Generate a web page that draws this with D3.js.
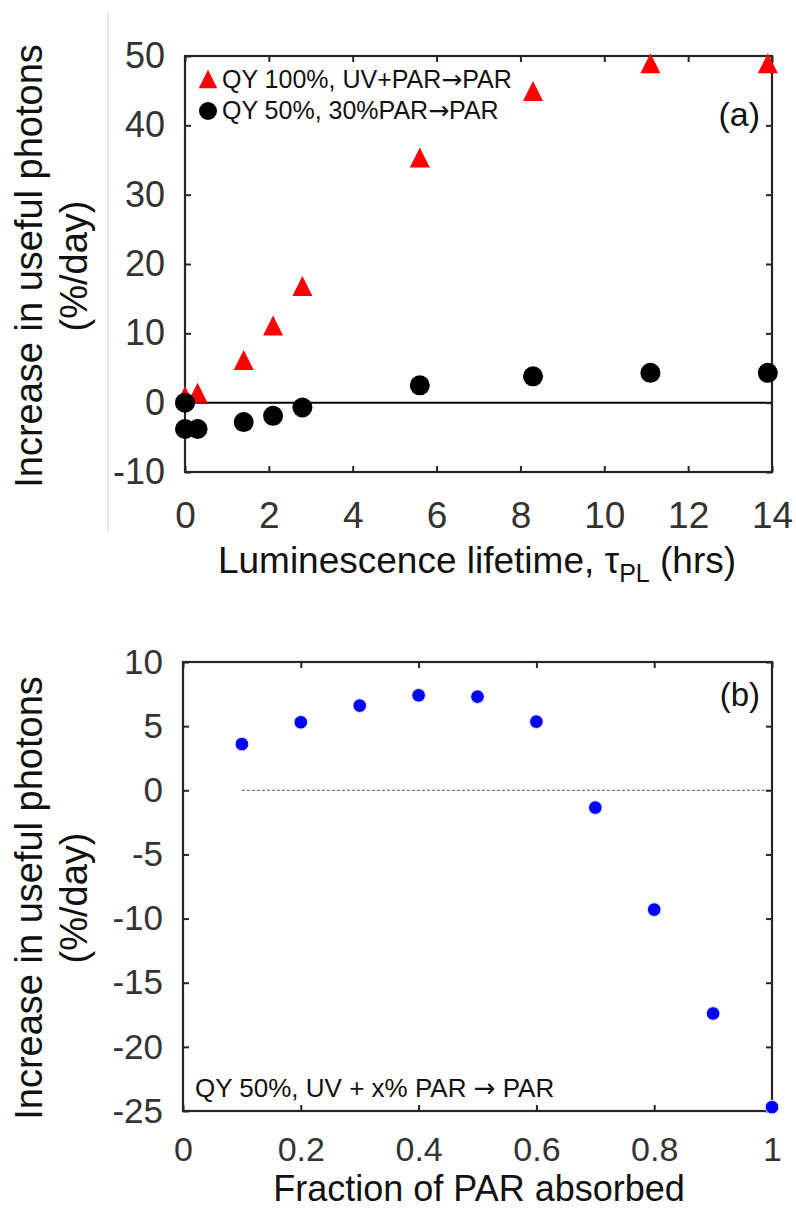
<!DOCTYPE html>
<html>
<head>
<meta charset="utf-8">
<script src="https://cdn.jsdelivr.net/npm/d3@7"></script>
<style>
  body { margin: 0; background: #fff; }
  text { font-family: "Liberation Sans", Arial, sans-serif; }
</style>
</head>
<body>
<script>
// data
const lifetimeRed = [0, 0.3, 1.4, 2.1, 2.8, 5.6, 8.3, 11.1, 13.9]
const qy100 = [0.8, 1.3, 6, 11, 16.7, 35.2, 44.8, 48.8, 48.8]
const lifetimeBlack = [0, 0, 0.3, 1.4, 2.1, 2.8, 5.6, 8.3, 11.1, 13.9]
const qy50 = [0, -3.8, -3.8, -2.8, -1.9, -0.7, 2.5, 3.8, 4.3, 4.3]

const fraction = [0.1, 0.2, 0.3, 0.4, 0.5, 0.6, 0.7, 0.8, 0.9, 1.0]
const gain = [3.6, 5.3, 6.6, 7.4, 7.3, 5.35, -1.35, -9.3, -17.4, -24.7]

const topXTicks = [0, 2, 4, 6, 8, 10, 12, 14]
const topYTicks = [-10, 0, 10, 20, 30, 40, 50]
const botXTicks = [0, 0.2, 0.4, 0.6, 0.8, 1]
const botYTicks = [-25, -20, -15, -10, -5, 0, 5, 10]

const w = 796
const h = 1209
const frameColor = '#262626'
const labelColor = '#333'
const plain = d => String(d)   // keeps the plain hyphen for negatives

const svg = d3.select('body').append('svg')
  .attr('width', w)
  .attr('height', h)

// triangle marker a bit taller than equilateral, as in the figure
const tallTriangle = {
  draw(ctx, size) {
    const s = Math.sqrt(size)
    ctx.moveTo(0, -s * 0.55)
    ctx.lineTo(s * 0.5, s * 0.45)
    ctx.lineTo(-s * 0.5, s * 0.45)
    ctx.closePath()
  }
}

function frame(g, x, y, xTicks, yTicks, opts) {
  const [x0, x1] = x.range()
  const [y0, y1] = y.range()   // y0 bottom, y1 top
  const inner = 6

  // tick labels + inward ticks
  g.append('g').attr('transform', `translate(0,${y0})`)
    .call(d3.axisBottom(x).tickValues(xTicks).tickSizeInner(-inner).tickSizeOuter(0)
      .tickPadding(opts.xPad).tickFormat(plain))
    .call(a => a.select('.domain').remove())
    .call(a => a.selectAll('text').attr('font-size', opts.xFs).attr('fill', labelColor))
  g.append('g').attr('transform', `translate(0,${y1})`)
    .call(d3.axisTop(x).tickValues(xTicks).tickSizeInner(-inner).tickSizeOuter(0).tickFormat(''))
    .call(a => a.select('.domain').remove())
  g.append('g').attr('transform', `translate(${x0},0)`)
    .call(d3.axisLeft(y).tickValues(yTicks).tickSizeInner(-inner).tickSizeOuter(0)
      .tickPadding(opts.yPad).tickFormat(plain))
    .call(a => a.select('.domain').remove())
    .call(a => a.selectAll('text').attr('font-size', opts.yFs).attr('fill', labelColor))
  g.append('g').attr('transform', `translate(${x1},0)`)
    .call(d3.axisRight(y).tickValues(yTicks).tickSizeInner(-inner).tickSizeOuter(0).tickFormat(''))
    .call(a => a.select('.domain').remove())

  g.selectAll('.tick line').attr('stroke', frameColor).attr('stroke-width', 2)
  g.selectAll('.tick text').attr('font-family', '"Liberation Sans", Arial, sans-serif')

  g.append('rect')
    .attr('x', x0).attr('y', y1)
    .attr('width', x1 - x0).attr('height', y0 - y1)
    .attr('fill', 'none').attr('stroke', frameColor).attr('stroke-width', 2.2)
}

function yTitle(cy) {
  const t = svg.append('g').attr('transform', `translate(0,${cy})`)
  t.append('text').attr('transform', 'translate(42,0) rotate(-90)')
    .attr('text-anchor', 'middle').attr('font-size', 38).attr('fill', '#111')
    .text('Increase in useful photons')
  t.append('text').attr('transform', 'translate(87,0) rotate(-90)')
    .attr('text-anchor', 'middle').attr('font-size', 38).attr('fill', '#111')
    .text('(%/day)')
}

// text with a wider arrow glyph
function arrowText(g, x, y, fs, parts) {
  const t = g.append('text').attr('x', x).attr('y', y).attr('font-size', fs).attr('fill', '#111')
  parts.forEach(p => {
    const s = t.append('tspan').text(p)
    if (p === '→') s.attr('font-family', '"DejaVu Sans", sans-serif')
  })
  return t
}

//////////// (a) ////////////
const xA = d3.scaleLinear().domain([0, 14]).range([185, 772])
const yA = d3.scaleLinear().domain([-10, 50]).range([472, 56])
const gA = svg.append('g')

// faint vertical rule at the left of panel (a)
svg.append('line')
  .attr('x1', 108).attr('x2', 108).attr('y1', 12).attr('y2', 532)
  .attr('stroke', '#d0d0d0').attr('stroke-width', 1)

gA.append('line')
  .attr('x1', xA(0)).attr('x2', xA(14)).attr('y1', yA(0)).attr('y2', yA(0))
  .attr('stroke', '#000').attr('stroke-width', 2)

frame(gA, xA, yA, topXTicks, topYTicks,
  { xPad: 30, xFs: 37, yPad: 20, yFs: 36 })

gA.selectAll('path.tri')
  .data(lifetimeRed.map((t, i) => [t, qy100[i]]))
  .enter().append('path')
  .attr('class', 'tri')
  .attr('d', d3.symbol(tallTriangle, 400))
  .attr('transform', d => `translate(${xA(d[0])},${yA(d[1])})`)
  .attr('fill', '#f00')

gA.selectAll('circle.blk')
  .data(lifetimeBlack.map((t, i) => [t, qy50[i]]))
  .enter().append('circle')
  .attr('class', 'blk')
  .attr('cx', d => xA(d[0]))
  .attr('cy', d => yA(d[1]))
  .attr('r', 10)
  .attr('fill', '#000')

// legend
gA.append('path').attr('d', d3.symbol(tallTriangle, 340)).attr('transform', 'translate(208,80)').attr('fill', '#f00')
arrowText(gA, 222, 88, 25, ['QY 100%, UV+PAR', '→', 'PAR'])
gA.append('circle').attr('cx', 208).attr('cy', 111).attr('r', 9).attr('fill', '#000')
arrowText(gA, 222, 119, 25, ['QY 50%, 30%PAR', '→', 'PAR'])

gA.append('text').attr('x', 760).attr('y', 126).attr('text-anchor', 'end')
  .attr('font-size', 34).attr('fill', '#111').text('(a)')

const xtA = svg.append('text').attr('x', 477).attr('y', 573).attr('text-anchor', 'middle')
  .attr('font-size', 37).attr('fill', '#111')
xtA.append('tspan').text('Luminescence lifetime, τ')
xtA.append('tspan').attr('font-size', 25).attr('dy', 9).text('PL')
xtA.append('tspan').attr('dy', -9).text(' (hrs)')

yTitle(266)

//////////// (b) ////////////
const xB = d3.scaleLinear().domain([0, 1]).range([183, 772])
const yB = d3.scaleLinear().domain([-25, 10]).range([1111, 662])
const gB = svg.append('g')

gB.append('line')
  .attr('x1', xB(fraction[0])).attr('x2', xB(1)).attr('y1', yB(0)).attr('y2', yB(0))
  .attr('stroke', '#555').attr('stroke-width', 1).attr('stroke-dasharray', '3,2')

frame(gB, xB, yB, botXTicks, botYTicks,
  { xPad: 26, xFs: 34, yPad: 20, yFs: 35 })

gB.selectAll('circle.blu')
  .data(fraction.map((f, i) => [f, gain[i]]))
  .enter().append('circle')
  .attr('class', 'blu')
  .attr('cx', d => xB(d[0]))
  .attr('cy', d => yB(d[1]))
  .attr('r', 6.8)
  .attr('fill', '#0000ff')
  .attr('stroke', '#e8ecff')
  .attr('stroke-width', 1)

gB.append('text').attr('x', 760).attr('y', 706).attr('text-anchor', 'end')
  .attr('font-size', 33).attr('fill', '#111').text('(b)')

arrowText(gB, 195, 1097, 26, ['QY 50%, UV + x% PAR ', '→', ' PAR'])

svg.append('text').attr('x', 479).attr('y', 1201).attr('text-anchor', 'middle')
  .attr('font-size', 36).attr('fill', '#111').text('Fraction of PAR absorbed')

yTitle(898)
</script>
</body>
</html>
